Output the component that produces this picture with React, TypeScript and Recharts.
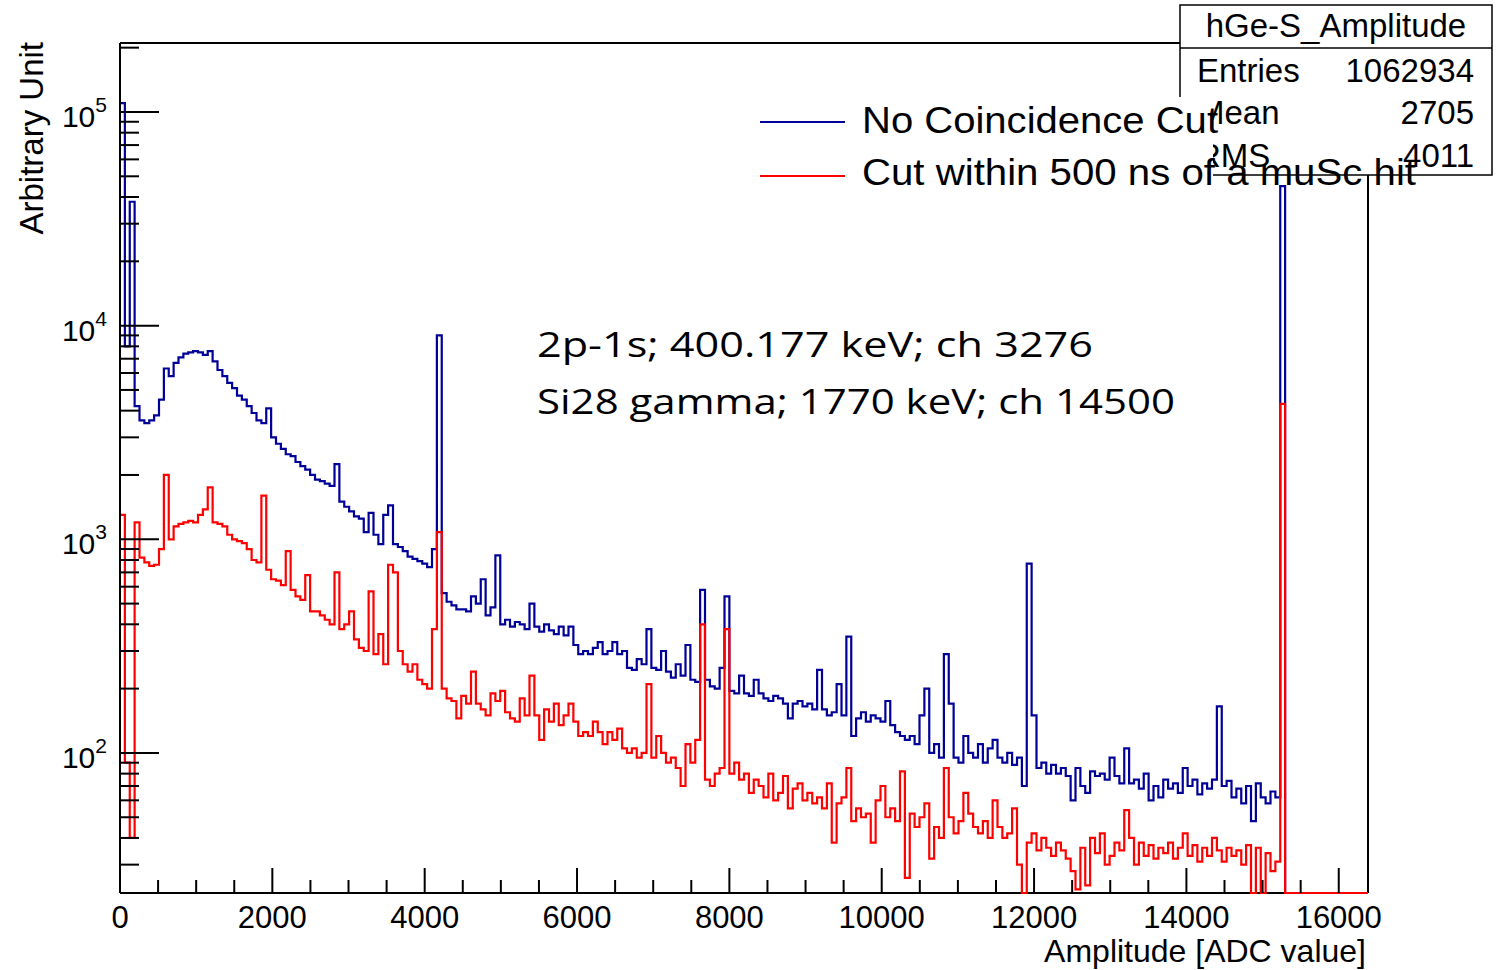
import { Line, LineChart, XAxis, YAxis } from "recharts";

// histogram bins of 64 ADC channels, counts (0 = empty bin)
const BIN_WIDTH = 64;
const X_END = 16384;

const noCut = [
  110000, 8000, 38000, 4200, 3600, 3500, 3600, 3800, 4500, 6300,
  5800, 6700, 7100, 7400, 7500, 7600, 7500, 7300, 7600, 6800,
  6200, 5800, 5400, 5100, 4700, 4500, 4200, 3900, 3600, 3500,
  4100, 3000, 2800, 2650, 2500, 2450, 2300, 2200, 2120, 2000,
  1900, 1870, 1820, 1780, 2250, 1500, 1420, 1350, 1280, 1250,
  1080, 1330, 1050, 950, 1300, 1440, 950, 920, 880, 830,
  810, 790, 770, 740, 900, 9000, 560, 510, 490, 470,
  470, 460, 540, 500, 650, 440, 480, 840, 400, 420,
  390, 410, 400, 380, 500, 390, 370, 400, 375, 360,
  390, 355, 390, 320, 290, 300, 290, 310, 330, 290,
  300, 330, 290, 300, 250, 245, 275, 260, 380, 250,
  245, 300, 240, 225, 260, 230, 320, 220, 215, 580,
  220, 205, 200, 250, 540, 195, 190, 230, 190, 185,
  220, 190, 180, 175, 185, 180, 170, 145, 170, 175,
  165, 170, 160, 245, 160, 150, 155, 210, 150, 350,
  120, 145, 155, 140, 150, 145, 140, 175, 135, 125,
  120, 115, 120, 110, 150, 200, 100, 110, 95, 290,
  170, 95, 90, 120, 100, 95, 110, 90, 105, 115,
  95, 90, 100, 88, 95, 70, 770, 150, 85, 90,
  80, 88, 80, 85, 78, 60, 85, 70, 65, 82,
  78, 80, 75, 95, 78, 72, 105, 72, 75, 68,
  80, 60, 70, 62, 75, 68, 72, 65, 85, 70,
  75, 64, 72, 68, 75, 165, 70, 74, 62, 68,
  58, 70, 48, 72, 62, 58, 66, 62, 45000, 0,
];

const withCut = [
  1300, 90, 40, 1200, 820, 780, 750, 760, 900, 2000,
  1000, 1150, 1180, 1200, 1220, 1200, 1300, 1380, 1750, 1200,
  1180, 1150, 1050, 1000, 980, 960, 900, 800, 780, 1600,
  720, 650, 640, 610, 880, 580, 540, 520, 680, 460,
  460, 440, 420, 400, 700, 380, 400, 460, 340, 310,
  300, 570, 290, 360, 260, 760, 700, 300, 260, 240,
  260, 220, 210, 200, 380, 1080, 200, 180, 175, 145,
  185, 170, 240, 170, 160, 150, 190, 175, 195, 155,
  145, 140, 180, 150, 230, 150, 115, 160, 140, 170,
  135, 150, 170, 140, 120, 125, 120, 140, 125, 110,
  125, 115, 130, 105, 100, 105, 95, 100, 210, 95,
  120, 100, 90, 95, 85, 70, 110, 90, 115, 400,
  75, 70, 80, 85, 380, 80, 90, 75, 80, 65,
  75, 70, 62, 80, 60, 65, 78, 55, 68, 72,
  60, 65, 58, 62, 55, 72, 38, 58, 62, 85,
  48, 55, 50, 52, 38, 60, 70, 50, 55, 48,
  82, 26, 52, 45, 50, 58, 32, 45, 40, 85,
  50, 42, 48, 65, 52, 45, 42, 48, 40, 60,
  45, 40, 42, 55, 30, 0, 38, 42, 35, 40,
  36, 33, 38, 35, 32, 28, 23, 36, 24, 40,
  34, 42, 30, 33, 38, 35, 54, 40, 30, 38,
  33, 37, 32, 36, 34, 38, 32, 36, 42, 33,
  37, 31, 36, 33, 40, 35, 31, 36, 33, 35,
  30, 37, 0, 36, 0, 34, 28, 31, 4300, 0,
];

const X_TICKS = [
  0, 500, 1000, 1500, 2000, 2500, 3000, 3500, 4000, 4500, 5000, 5500,
  6000, 6500, 7000, 7500, 8000, 8500, 9000, 9500, 10000, 10500, 11000,
  11500, 12000, 12500, 13000, 13500, 14000, 14500, 15000, 15500, 16000,
];
const Y_TICKS = [
  30, 40, 50, 60, 70, 80, 90, 100, 200, 300, 400, 500, 600, 700, 800, 900,
  1000, 2000, 3000, 4000, 5000, 6000, 7000, 8000, 9000, 10000, 20000, 30000,
  40000, 50000, 60000, 70000, 80000, 90000, 100000, 200000,
];

const Y_MIN = 22.1;
const Y_MAX = 210300;

const W = 1503;
const H = 970;
// plot area: x 120..1368, y 43..893
const plotLeft = 120;
const plotTop = 43;
const plotRight = 1368;
const plotBottom = 893;
const yAxisW = 60;
const xAxisH = 30;
const margin = {
  top: plotTop,
  right: W - plotRight,
  bottom: H - plotBottom - xAxisH,
  left: plotLeft - yAxisW,
};

const font = "'Liberation Sans', Arial, Helvetica, sans-serif";

const rows = noCut.map((b, i) => ({
  x: i * BIN_WIDTH,
  blue: b > 0 ? b : Y_MIN,
  red: withCut[i] > 0 ? withCut[i] : Y_MIN,
}));
rows.push({ x: X_END, blue: Y_MIN, red: Y_MIN });

function XTick(props: any) {
  const { x, payload } = props;
  const major = payload.value % 2000 === 0;
  return (
    <g>
      <line x1={x} x2={x} y1={plotBottom} y2={plotBottom - (major ? 25 : 13)} stroke="#000" strokeWidth={2} />
      {major && (
        <text x={x} y={plotBottom + 35} textAnchor="middle" fontSize={31} fontFamily={font} fill="#000">
          {payload.value}
        </text>
      )}
    </g>
  );
}

function YTick(props: any) {
  const { y, payload } = props;
  const exp = Math.log10(payload.value);
  const major = Math.abs(exp - Math.round(exp)) < 1e-6;
  return (
    <g>
      <line x1={plotLeft} x2={plotLeft + (major ? 39 : 19)} y1={y} y2={y} stroke="#000" strokeWidth={2} />
      {major && (
        <text x={107} y={y + 15} textAnchor="end" fontSize={30} fontFamily={font} fill="#000">
          10
          <tspan fontSize={21} dy={-15}>
            {Math.round(exp)}
          </tspan>
        </text>
      )}
    </g>
  );
}

export default function App() {
  return (
    <div style={{ position: "relative", width: W, height: H, background: "#fff" }}>
      <style>{"body{margin:0}"}</style>

      {/* frame drawn beneath the histograms, so the empty red bins stay visible on it */}
      <svg width={W} height={H} style={{ position: "absolute", left: 0, top: 0 }}>
        <line x1={plotLeft} y1={plotBottom} x2={plotRight} y2={plotBottom} stroke="#000" strokeWidth={2} />
        <line x1={plotLeft} y1={plotTop} x2={plotRight} y2={plotTop} stroke="#000" strokeWidth={2} />
        <line x1={plotRight} y1={plotTop} x2={plotRight} y2={plotBottom} stroke="#000" strokeWidth={2} />
      </svg>

      <LineChart width={W} height={H} data={rows} margin={margin}>
        <XAxis
          type="number"
          dataKey="x"
          domain={[0, X_END]}
          ticks={X_TICKS}
          interval={0}
          height={xAxisH}
          tickLine={false}
          axisLine={false}
          tick={(p: any) => <XTick {...p} />}
        />
        <YAxis
          type="number"
          scale="log"
          domain={[Y_MIN, Y_MAX]}
          ticks={Y_TICKS}
          interval={0}
          width={yAxisW}
          tickLine={false}
          axisLine={{ stroke: "#000", strokeWidth: 2 }}
          tick={(p: any) => <YTick {...p} />}
        />
        <Line
          type="stepAfter"
          dataKey="blue"
          stroke="#000099"
          strokeWidth={2.2}
          dot={false}
          activeDot={false}
          isAnimationActive={false}
        />
        <Line
          type="stepAfter"
          dataKey="red"
          stroke="#ff0000"
          strokeWidth={2.2}
          dot={false}
          activeDot={false}
          isAnimationActive={false}
        />
      </LineChart>

      <svg width={W} height={H} style={{ position: "absolute", left: 0, top: 0, pointerEvents: "none" }}>
        {/* stats box */}
        <rect x={1180} y={5} width={312} height={170} fill="#fff" stroke="#000" strokeWidth={1.5} />
        <line x1={1180} y1={48} x2={1492} y2={48} stroke="#000" strokeWidth={1.5} />
        <g fontFamily={font} fontSize={33} fill="#000">
          <text x={1336} y={37} textAnchor="middle">hGe-S_Amplitude</text>
          <text x={1197} y={82}>Entries</text>
          <text x={1474} y={82} textAnchor="end">1062934</text>
          <text x={1197} y={124}>Mean</text>
          <text x={1474} y={124} textAnchor="end">2705</text>
          <text x={1197} y={167}>RMS</text>
          <text x={1474} y={167} textAnchor="end">4011</text>
        </g>

        {/* legend */}
        <rect x={740} y={97} width={473} height={105} fill="#fff" />
        <line x1={760} y1={122} x2={845} y2={122} stroke="#000099" strokeWidth={2} />
        <line x1={760} y1={176} x2={845} y2={176} stroke="#ff0000" strokeWidth={2} />
        <g fontFamily={font} fontSize={37} fill="#000">
          <text x={862} y={133} textLength={356} lengthAdjust="spacingAndGlyphs">No Coincidence Cut</text>
          <text x={862} y={185} textLength={554} lengthAdjust="spacingAndGlyphs">Cut within 500 ns of a muSc hit</text>
        </g>

        {/* annotation */}
        <g fontFamily="'Open Sans', 'Noto Sans', sans-serif" fontSize={35} fill="#000" style={{ whiteSpace: "pre" }}>
          <text x={537} y={357} textLength={556} lengthAdjust="spacingAndGlyphs">2p-1s; 400.177 keV;  ch 3276</text>
          <text x={537} y={414} textLength={638} lengthAdjust="spacingAndGlyphs">Si28 gamma; 1770 keV; ch 14500</text>
        </g>

        {/* axis titles */}
        <text x={1366} y={962} textAnchor="end" fontFamily={font} fontSize={32} fill="#000">
          Amplitude [ADC value]
        </text>
        <text transform="translate(43,42) rotate(-90)" textAnchor="end" fontFamily={font} fontSize={33} fill="#000">
          Arbitrary Unit
        </text>
      </svg>
    </div>
  );
}
